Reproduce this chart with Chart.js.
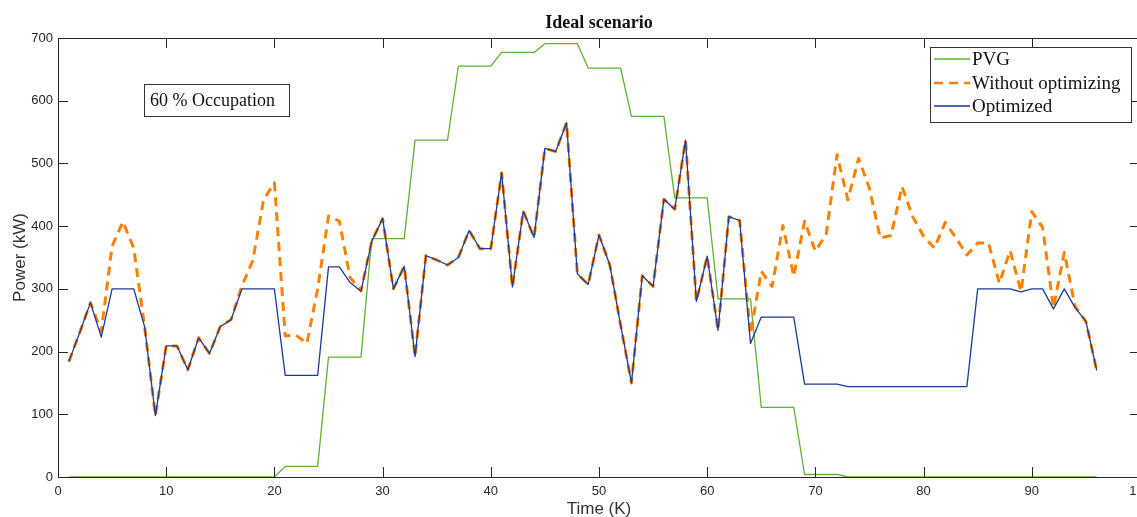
<!DOCTYPE html>
<html>
<head>
<meta charset="utf-8">
<script src="https://cdn.jsdelivr.net/npm/chart.js@4"></script>
<style>
  html, body { margin: 0; padding: 0; background: #fff; overflow: hidden; }
  #wrap { width: 1150px; height: 517px; }
</style>
</head>
<body>
<div id="wrap"><canvas id="grafico" width="1150" height="517"></canvas></div>
<script>
const timeSteps = [1,2,3,4,5,6,7,8,9,10,11,12,13,14,15,16,17,18,19,20,21,22,23,24,25,26,27,28,29,30,31,32,33,34,35,36,37,38,39,40,41,42,43,44,45,46,47,48,49,50,51,52,53,54,55,56,57,58,59,60,61,62,63,64,65,66,67,68,69,70,71,72,73,74,75,76,77,78,79,80,81,82,83,84,85,86,87,88,89,90,91,92,93,94,95,96];

const pvg = [0,0,0,0,0,0,0,0,0,0,0,0,0,0,0,0,0,0,0,0,
  17,17,17,17,191,191,191,191,380,380,380,380,537,537,537,537,
  655,655,655,655,677,677,677,677,691,691,691,691,652,652,652,652,
  575,575,575,575,445,445,445,445,284,284,284,284,111,111,111,111,
  4,4,4,4,0,0,0,0,0,0,0,0,0,0,0,0,0,0,0,0,0,0,0,0,0,0,0,0];

const withoutOpt = [184,230,278,232,368,407,365,240,98,209,209,171,222,197,240,251,
  305,345,442,469,225,226,213,300,416,408,318,297,376,412,300,336,
  192,353,346,338,350,393,364,364,485,303,424,382,524,519,565,324,
  307,386,338,242,150,321,304,443,427,537,280,352,234,415,409,228,
  328,304,401,320,408,360,387,514,442,508,460,381,385,463,415,384,
  365,406,381,354,373,373,309,361,296,423,398,270,358,272,248,170];

const optimized = [184,230,278,223,300,300,300,240,98,209,209,171,222,197,240,251,
  300,300,300,300,162,162,162,162,335,335,310,296,376,412,300,336,
  192,353,346,338,350,393,364,364,485,303,424,382,524,519,565,324,
  307,386,338,242,150,321,304,443,427,537,280,352,234,415,409,213,
  255,255,255,255,148,148,148,148,144,144,144,144,144,144,144,144,
  144,144,144,144,300,300,300,300,295,300,300,268,300,270,248,170];

const xTicks = [0,10,20,30,40,50,60,70,80,90,100];
const yTicks = [0,100,200,300,400,500,600,700];

const serie = vals => vals.map((v, i) => ({ x: timeSteps[i], y: v }));

const marco = {
  id: "marco",
  afterDraw(chart) {
    const ctx = chart.ctx;
    const a = chart.chartArea;
    const sx = chart.scales.x, sy = chart.scales.y;
    ctx.save();
    ctx.strokeStyle = "#262626";
    ctx.lineWidth = 1;
    ctx.strokeRect(a.left + 0.5, a.top + 0.5, a.right - a.left, a.bottom - a.top);
    // ticks hacia adentro
    ctx.beginPath();
    xTicks.forEach(t => {
      const px = Math.round(sx.getPixelForValue(t)) + 0.5;
      ctx.moveTo(px, a.bottom); ctx.lineTo(px, a.bottom - 10);
      ctx.moveTo(px, a.top); ctx.lineTo(px, a.top + 10);
    });
    yTicks.forEach(t => {
      const py = Math.round(sy.getPixelForValue(t)) + 0.5;
      ctx.moveTo(a.left, py); ctx.lineTo(a.left + 10, py);
      ctx.moveTo(a.right, py); ctx.lineTo(a.right - 10, py);
    });
    ctx.stroke();

    // etiquetas del eje x
    ctx.fillStyle = "#262626";
    ctx.font = "13px 'Liberation Sans'";
    ctx.textAlign = "center";
    ctx.textBaseline = "middle";
    xTicks.forEach(t => {
      ctx.fillText(String(t), sx.getPixelForValue(t), a.bottom + 14);
    });

    // titulo
    ctx.fillStyle = "#111";
    ctx.font = "bold 18px 'Liberation Serif'";
    ctx.textBaseline = "alphabetic";
    ctx.fillText("Ideal scenario", (a.left + a.right) / 2, 28);

    // titulos de ejes
    ctx.fillStyle = "#333";
    ctx.font = "17px 'Liberation Sans'";
    ctx.fillText("Time (K)", (a.left + a.right) / 2, 514);
    ctx.save();
    ctx.translate(25, (a.top + a.bottom) / 2);
    ctx.rotate(-Math.PI / 2);
    ctx.fillText("Power (kW)", 0, 0);
    ctx.restore();

    // cuadro de ocupacion
    ctx.fillStyle = "#fff";
    ctx.fillRect(144, 84, 145, 32);
    ctx.strokeStyle = "#333";
    ctx.strokeRect(144.5, 84.5, 145, 32);
    ctx.fillStyle = "#111";
    ctx.font = "18px 'Liberation Serif'";
    ctx.textAlign = "left";
    ctx.fillText("60 % Occupation", 150, 106);

    // leyenda
    const lx = 930, ly = 47, lw = 201, lh = 75;
    ctx.fillStyle = "#fff";
    ctx.fillRect(lx, ly, lw, lh);
    ctx.strokeStyle = "#333";
    ctx.strokeRect(lx + 0.5, ly + 0.5, lw, lh);
    const rows = [59, 83, 106];
    chart.data.datasets.forEach((ds, i) => {
      const y = rows[i];
      ctx.beginPath();
      ctx.strokeStyle = ds.borderColor;
      ctx.lineWidth = ds.borderDash ? 2.5 : 1.5;
      ctx.setLineDash(ds.borderDash || []);
      ctx.moveTo(934, y); ctx.lineTo(970, y);
      ctx.stroke();
      ctx.setLineDash([]);
      ctx.fillStyle = "#111";
      ctx.font = "19px 'Liberation Serif'";
      ctx.textBaseline = "middle";
      ctx.fillText(ds.label, 972, y + 1);
    });
    ctx.restore();
  }
};

new Chart(document.getElementById("grafico"), {
  type: "line",
  data: {
    datasets: [
      {
        label: "PVG",
        data: serie(pvg),
        borderColor: "#5db32e",
        borderWidth: 1.3,
        borderJoinStyle: "round",
        pointRadius: 0,
        tension: 0,
        order: 2
      },
      {
        label: "Without optimizing",
        data: serie(withoutOpt),
        borderColor: "#ff8000",
        borderWidth: 3,
        borderDash: [9, 6],
        borderJoinStyle: "round",
        pointRadius: 0,
        tension: 0,
        order: 1
      },
      {
        label: "Optimized",
        data: serie(optimized),
        borderColor: "#1b3a99",
        borderWidth: 1.3,
        borderJoinStyle: "round",
        pointRadius: 0,
        tension: 0,
        order: 0
      }
    ]
  },
  options: {
    responsive: false,
    animation: false,
    devicePixelRatio: 1,
    layout: { padding: { top: 38, right: 10, left: 0, bottom: 0 } },
    plugins: {
      legend: { display: false },
      title: { display: false },
      tooltip: { enabled: false }
    },
    scales: {
      x: {
        type: "linear",
        min: 0,
        max: 100,
        afterBuildTicks: s => { s.ticks = xTicks.map(v => ({ value: v })); },
        afterFit: s => { s.height = 40; },
        grid: { display: false, drawTicks: false },
        border: { display: false },
        ticks: { display: false }
      },
      y: {
        min: 0,
        max: 700,
        afterBuildTicks: s => { s.ticks = yTicks.map(v => ({ value: v })); },
        afterFit: s => { s.width = 58; },
        grid: { display: false, drawTicks: false },
        border: { display: false },
        ticks: { padding: 5, color: "#262626", font: { family: "Liberation Sans", size: 13 } }
      }
    }
  },
  plugins: [marco]
});
</script>
</body>
</html>
